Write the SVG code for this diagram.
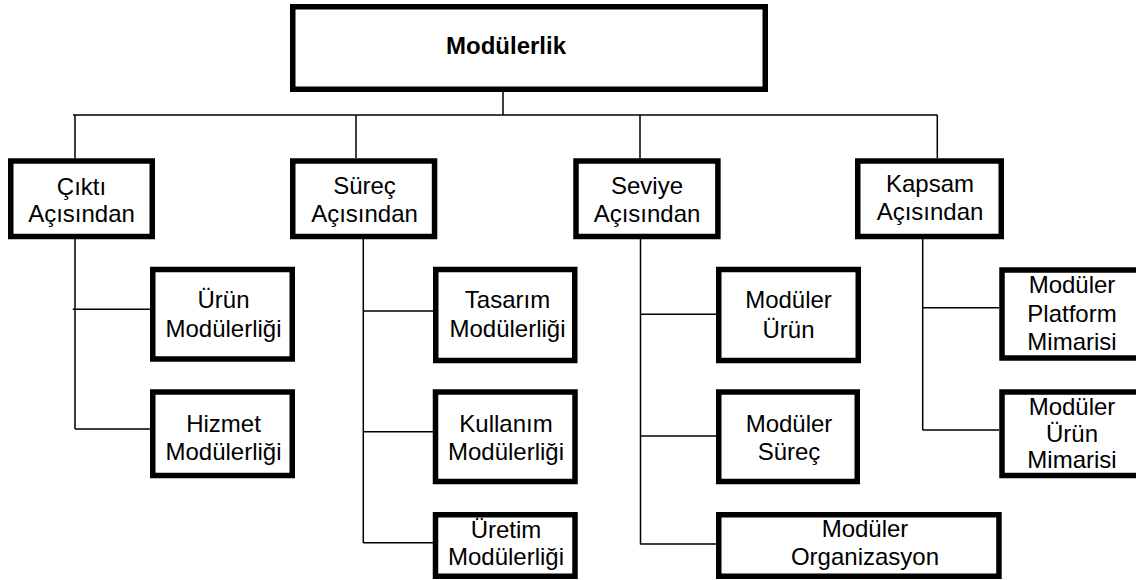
<svg xmlns="http://www.w3.org/2000/svg" width="1136" height="580" viewBox="0 0 1136 580">
<style>
.box{fill:#fff;stroke:#000;stroke-width:5.5}
.t{font-family:"Liberation Sans",Arial,sans-serif;font-size:24px;fill:#000;text-anchor:middle}
.b{font-weight:bold}
.c{stroke:#000;stroke-width:1.5;fill:none}
</style>
<rect width="1136" height="580" fill="#fff"/>
<g id="connectors">
<path class="c" d="M503 92V115M73 115H937.5M75 115V158M356 115V158M640 115V158M937.3 115V158"/>
<path class="c" d="M75 239V429M72.7 309.3H150M75 429H150"/>
<path class="c" d="M363.3 239V543M363.3 311H433M363.3 431.7H433M363.3 542.7H433"/>
<path class="c" d="M640.5 239V544.5M640.5 314.3H716M640.5 436H716M640.5 544H716"/>
<path class="c" d="M922.7 239V430M922.7 307.7H999M922.7 430H999"/>
</g>
<g id="n-modulerlik"><rect class="box" x="292.75" y="6.75" width="472.5" height="82.5"/><text class="t b" x="506" y="53.5">Modülerlik</text></g>
<g id="n-cikti"><rect class="box" x="10.75" y="161" width="141.5" height="75.5"/><text class="t" x="81.5" y="195">Çıktı</text><text class="t" x="81.5" y="221.7">Açısından</text></g>
<g id="n-surec"><rect class="box" x="292.75" y="161" width="141.8" height="75.5"/><text class="t" x="364.5" y="193.5">Süreç</text><text class="t" x="364.5" y="221.7">Açısından</text></g>
<g id="n-seviye"><rect class="box" x="576" y="161" width="141.9" height="75.5"/><text class="t" x="647" y="193.5">Seviye</text><text class="t" x="647" y="221.7">Açısından</text></g>
<g id="n-kapsam"><rect class="box" x="857.75" y="161" width="143.5" height="75.5"/><text class="t" x="930" y="191.7">Kapsam</text><text class="t" x="930" y="220">Açısından</text></g>
<g id="n-urun-mod"><rect class="box" x="152.75" y="269.5" width="139.5" height="89.5"/><text class="t" x="223.5" y="308.3">Ürün</text><text class="t" x="223.5" y="337.3">Modülerliği</text></g>
<g id="n-hizmet-mod"><rect class="box" x="152.75" y="392" width="139.5" height="83.5"/><text class="t" x="223.5" y="432.3">Hizmet</text><text class="t" x="223.5" y="459.5">Modülerliği</text></g>
<g id="n-tasarim-mod"><rect class="box" x="435.75" y="269.5" width="139" height="91"/><text class="t" x="507.5" y="308.3">Tasarım</text><text class="t" x="507.5" y="336.7">Modülerliği</text></g>
<g id="n-kullanim-mod"><rect class="box" x="435.5" y="392" width="139.5" height="89.5"/><text class="t" x="506" y="431.7">Kullanım</text><text class="t" x="506" y="460">Modülerliği</text></g>
<g id="n-uretim-mod"><rect class="box" x="435.5" y="514.75" width="139.5" height="61.5"/><text class="t" x="506" y="538.3">Üretim</text><text class="t" x="506" y="565">Modülerliği</text></g>
<g id="n-moduler-urun"><rect class="box" x="718.75" y="269.5" width="139.5" height="91"/><text class="t" x="788.5" y="308.3">Modüler</text><text class="t" x="788.5" y="337.7">Ürün</text></g>
<g id="n-moduler-surec"><rect class="box" x="718.75" y="392" width="138.5" height="89.5"/><text class="t" x="789" y="431.7">Modüler</text><text class="t" x="789" y="460">Süreç</text></g>
<g id="n-moduler-org"><rect class="box" x="718.75" y="514.75" width="280.2" height="61.5"/><text class="t" x="865" y="536.7">Modüler</text><text class="t" x="865" y="565">Organizasyon</text></g>
<g id="n-platform"><rect class="box" x="1002" y="270" width="150" height="88"/><text class="t" x="1072" y="293.3">Modüler</text><text class="t" x="1072" y="321.7">Platform</text><text class="t" x="1072" y="350">Mimarisi</text></g>
<g id="n-urun-mimari"><rect class="box" x="1002" y="392" width="150" height="83.5"/><text class="t" x="1072" y="415">Modüler</text><text class="t" x="1072" y="441.7">Ürün</text><text class="t" x="1072" y="468">Mimarisi</text></g>
</svg>
